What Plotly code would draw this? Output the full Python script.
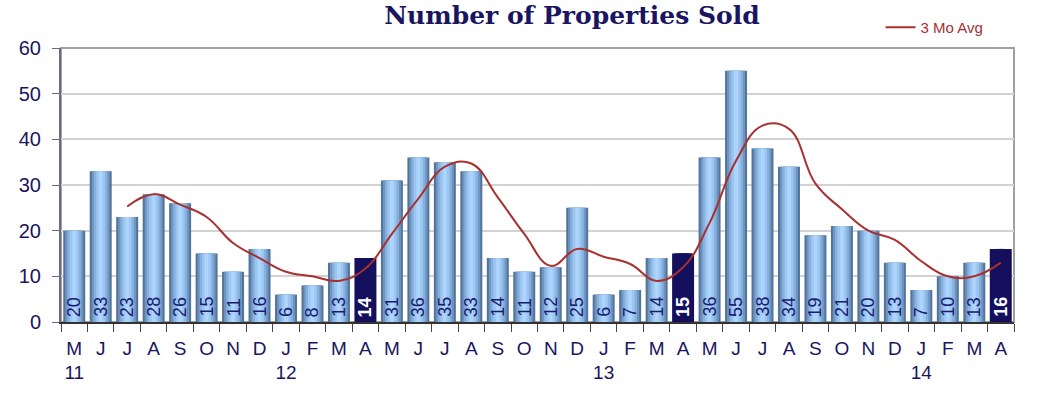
import plotly.graph_objects as go

months = ["M","J","J","A","S","O","N","D","J","F","M","A",
          "M","J","J","A","S","O","N","D","J","F","M","A",
          "M","J","J","A","S","O","N","D","J","F","M","A"]
year_marks = {0: "11", 8: "12", 20: "13", 32: "14"}
sold = [20,33,23,28,26,15,11,16,6,8,13,14,
        31,36,35,33,14,11,12,25,6,7,14,15,
        36,55,38,34,19,21,20,13,7,10,13,16]
avg3 = [None, None, 25.3, 28.0, 25.7, 23.0, 17.3, 14.0, 11.0, 10.0, 9.0, 11.7,
        19.3, 27.0, 34.0, 34.7, 27.3, 19.3, 12.3, 16.0, 14.3, 12.7, 9.0, 12.0,
        21.7, 35.3, 43.0, 42.3, 30.3, 24.7, 20.0, 18.0, 13.3, 10.0, 10.0, 13.0]
highlight = [11, 23, 35]

cats = [f"c{i}" for i in range(len(sold))]
ticktext = [m + ("<br>" + year_marks[i] if i in year_marks else "<br> ") for i, m in enumerate(months)]

NAVY = "#14105e"
fig = go.Figure()

layers = [(0.83, "#52739a"), (0.68, "#6e95c0"), (0.52, "#88b0dc"), (0.34, "#9bc6f2"), (0.15, "#acd4fc")]
for w, c in layers:
    cols = [NAVY if i in highlight else c for i in range(len(sold))]
    fig.add_trace(go.Bar(x=cats, y=sold, width=w, marker=dict(color=cols, line=dict(width=0)),
                         showlegend=False, hoverinfo="skip"))

fig.add_trace(go.Scatter(x=cats, y=avg3, mode="lines", name="3 Mo Avg",
                         line=dict(color="#a8302e", width=2, shape="spline", smoothing=1.2),
                         connectgaps=False))

for i, v in enumerate(sold):
    hl = i in highlight
    fig.add_annotation(x=cats[i], y=0, text=("<b>%d</b>" % v) if hl else str(v), textangle=-90,
                       xanchor="center", yanchor="bottom", yshift=3, showarrow=False,
                       font=dict(family="Liberation Sans", size=18,
                                 color="white" if hl else "#1a1a72"))

fig.add_shape(type="rect", xref="paper", yref="paper", x0=0, x1=1, y0=0, y1=1,
              line=dict(color="#a0a0a0", width=2), layer="below")

fig.update_layout(
    width=1038, height=398,
    margin=dict(l=61, r=24, t=48, b=76, autoexpand=False),
    paper_bgcolor="white", plot_bgcolor="white",
    barmode="overlay",
    title=dict(text="<b>Number of Properties Sold</b>", x=0.551, xanchor="center", y=0.962, yanchor="middle",
               font=dict(family="DejaVu Serif", size=25, color="#1a1560")),
    legend=dict(x=0.86, y=1.075, xanchor="left", yanchor="middle", bgcolor="rgba(0,0,0,0)",
                font=dict(family="Liberation Sans", size=15, color="#a8302e")),
    showlegend=True,
    xaxis=dict(type="category", tickvals=cats, ticktext=ticktext, tickson="boundaries",
               ticks="outside", ticklen=8, tickcolor="#444444", tickwidth=1, tickangle=0,
               automargin=False, ticklabelstandoff=8,
               showline=True, linecolor="#333333", linewidth=1.5,
               tickfont=dict(family="Liberation Sans", size=19, color="#1a1560"),
               showgrid=False, range=[-0.5, 35.5]),
    yaxis=dict(range=[0, 60], dtick=10, showgrid=True, gridcolor="#d2d2d2", gridwidth=1.5,
               automargin=False, ticklabelstandoff=7,
               showline=True, linecolor="#6a6890", linewidth=2,
               ticks="outside", ticklen=7, tickcolor="#6a6890",
               tickfont=dict(family="Liberation Sans", size=20, color="#1a1560"),
               zeroline=False),
)

fig.write_html("out.html", config={"displayModeBar": False},
               post_script="document.body.style.margin='0';")
